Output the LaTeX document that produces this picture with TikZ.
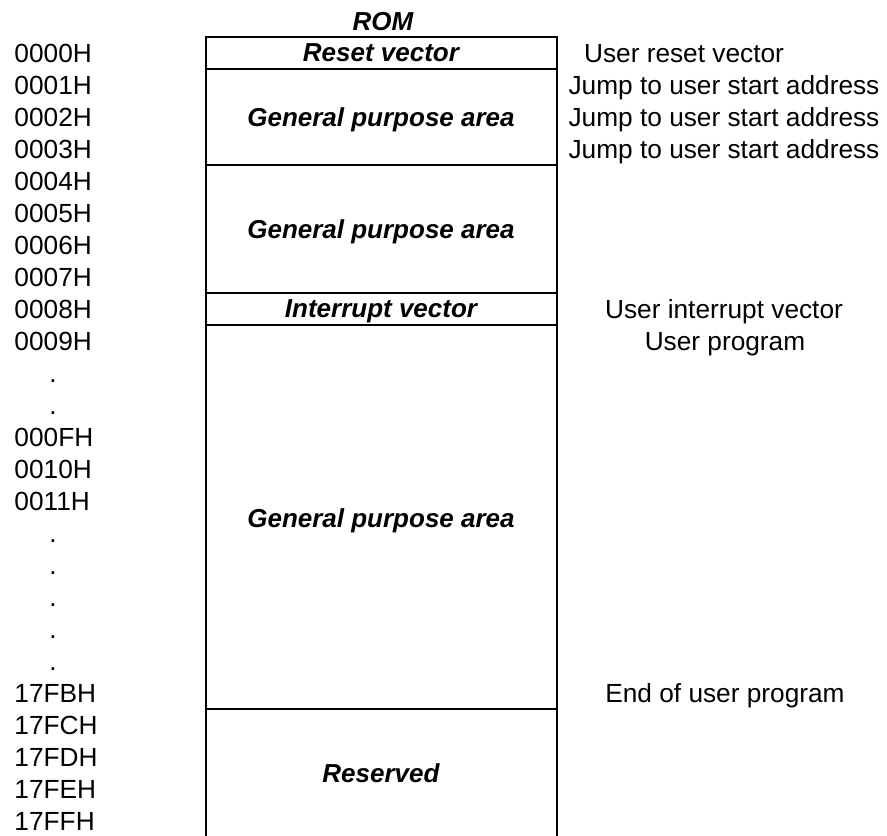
\documentclass[tikz,border=0pt]{standalone}
\usepackage{fontspec}
\setmainfont{Liberation Sans}
\usepackage{tikz}
\tikzset{
	addr/.style = {anchor = base west, inner sep = 0pt},
	dotmark/.style = {anchor = base, inner sep = 0pt},
	area/.style = {anchor = base, inner sep = 0pt, font = \fontsize{10.4}{12}\selectfont\bfseries\itshape},
	note/.style = {anchor = base, inner sep = 0pt},
	romline/.style = {line width = 0.85pt, color = black}
}

\begin{document}
\begin{tikzpicture}[x = 0.4pt, y = -0.4pt, font = \fontsize{10.5}{12}\selectfont]
	\useasboundingbox (0,0) rectangle (887,835);
	% memory column
	\draw[romline] (206,837) -- (206,37) -- (557,37) -- (557,837);
	\foreach \yy in {69,165,293,325,709}
		\draw[romline] (206,\yy) -- (557,\yy);
	\node[area] (rom) at (383,30) {ROM};
	\node[area] (rst) at (381,61) {Reset vector};
	\node[area] (gp1) at (381,126) {General purpose area};
	\node[area] (gp2) at (381,238) {General purpose area};
	\node[area] (irq) at (381,317) {Interrupt vector};
	\node[area] (gp3) at (381,527) {General purpose area};
	\node[area] (res) at (381,782) {Reserved};
	% addresses
	\foreach \lbl [count = \i from 0] in {0000H,0001H,0002H,0003H,0004H,0005H,0006H,0007H,0008H,0009H}
		\node[addr] (a\i) at (14,{62 + 32*\i}) {\lbl};
	\foreach \i in {10,11,15,16,17,18,19}
		\node[dotmark] (d\i) at (53,{62 + 32*\i}) {.};
	\foreach \lbl [count = \i from 12] in {000FH,0010H,0011H}
		\node[addr] (a\i) at (14,{62 + 32*\i}) {\lbl};
	\foreach \lbl [count = \i from 20] in {17FBH,17FCH,17FDH,17FEH,17FFH}
		\node[addr] (a\i) at (14,{62 + 32*\i}) {\lbl};
	% notes
	\node[note] (n0) at (684,62) {User reset vector};
	\foreach \i in {1,2,3}
		\node[note] (n\i) at (724,{62 + 32*\i}) {Jump to user start address};
	\node[note] (n8) at (724,318) {User interrupt vector};
	\node[note] (n9) at (725,350) {User program};
	\node[note] (n20) at (725,702) {End of user program};
\end{tikzpicture}
\end{document}
